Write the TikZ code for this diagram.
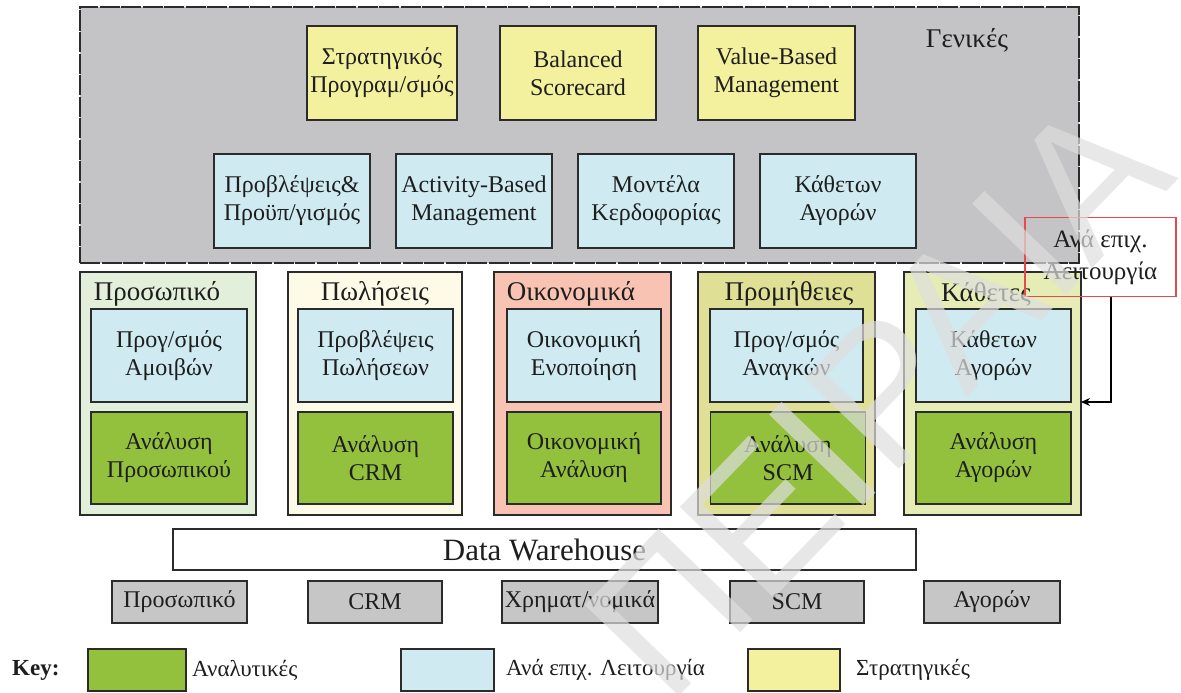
\documentclass[tikz,border=0pt]{standalone}
\usepackage{fontspec}
\setmainfont{Liberation Serif}
\newfontfamily\wmfont{Liberation Sans}
\usetikzlibrary{arrows.meta,calc}

\definecolor{genfill}{HTML}{C4C3C5}
\definecolor{stratfill}{HTML}{F3F19E}
\definecolor{funcfill}{HTML}{CFEAF0}
\definecolor{analfill}{HTML}{93C13D}
\definecolor{hrfill}{HTML}{E2EFDA}
\definecolor{salesfill}{HTML}{FDFBE8}
\definecolor{finfill}{HTML}{F8C3B2}
\definecolor{supfill}{HTML}{DFE095}
\definecolor{vertfill}{HTML}{E5ECB6}
\definecolor{srcfill}{HTML}{C6C6C6}
\definecolor{edge}{HTML}{2B2B2B}
\definecolor{ink}{HTML}{1E1E1E}
\definecolor{redline}{HTML}{E8494D}

\tikzset{
  boxbase/.style={draw=edge, line width=1.3pt, inner sep=0pt, outer sep=0pt,
    align=center, text=ink, font=\fontsize{24}{28}\selectfont},
  strat/.style={boxbase, fill=stratfill, minimum height=94pt},
  func/.style={boxbase, fill=funcfill},
  anal/.style={boxbase, fill=analfill},
  group/.style={boxbase, minimum height=243pt},
  grouptitle/.style={text=ink, inner sep=0pt, font=\fontsize{27}{30}\selectfont},
  source/.style={boxbase, fill=srcfill, minimum height=42pt},
  keybox/.style={boxbase, minimum width=94pt, minimum height=42pt},
  keytext/.style={text=ink, inner sep=0pt, anchor=west, font=\fontsize{23}{26}\selectfont},
  arr/.style={draw=black, line width=1.3pt, -{Stealth[length=9pt,width=8pt]}},
}

\begin{document}
\begin{tikzpicture}[x=1pt,y=-1pt]
\useasboundingbox (0,0) rectangle (1181,693);

% general-purpose layer
\node[boxbase, fill=genfill, draw=edge, dash pattern=on 20pt off 1.5pt,
      minimum width=999pt, minimum height=256pt] (gen) at (579.5,135) {};
\node[grouptitle] (genlbl) at (967,40) {Γενικές};

\node[strat, minimum width=150pt] (s1) at (382,73) {Στρατηγικός\\Προγραμ/σμός};
\node[strat, minimum width=156pt] (s2) at (578,73) {Balanced\\Scorecard};
\node[strat, minimum width=157pt] (s3) at (776.5,73) {Value-Based\\Management};

\node[func, minimum width=156pt, minimum height=94pt] (b1) at (292,201) {Προβλέψεις\&\\Προϋπ/γισμός};
\node[func, minimum width=156pt, minimum height=94pt] (b2) at (474,201) {Activity-Based\\Management};
\node[func, minimum width=156pt, minimum height=94pt] (b3) at (656,201) {Μοντέλα\\Κερδοφορίας};
\node[func, minimum width=156pt, minimum height=94pt] (b4) at (838,201) {Κάθετων\\Αγορών};

% functional groups
\node[group, fill=hrfill,    minimum width=176pt] (g1) at (168,393.5) {};
\node[group, fill=salesfill, minimum width=174pt] (g2) at (375,393.5) {};
\node[group, fill=finfill,   minimum width=177pt] (g3) at (582.5,393.5) {};
\node[group, fill=supfill,   minimum width=177pt] (g4) at (786.5,393.5) {};
\node[group, fill=vertfill,  minimum width=177pt] (g5) at (992.5,393.5) {};

\node[grouptitle] (t1) at (157,294) {Προσωπικό};
\node[grouptitle] (t2) at (375,294) {Πωλήσεις};
\node[grouptitle] (t3) at (571,294) {Οικονομικά};
\node[grouptitle] (t4) at (789,294) {Προμήθειες};
\node[grouptitle] (t5) at (986,294) {Κάθετες};

\node[func, minimum width=156pt, minimum height=93pt] (g1a) at (169,355.5) {Προγ/σμός\\Αμοιβών};
\node[func, minimum width=155pt, minimum height=93pt] (g2a) at (375.5,355.5) {Προβλέψεις\\Πωλήσεων};
\node[func, minimum width=154pt, minimum height=93pt] (g3a) at (584,355.5) {Οικονομική\\Ενοποίηση};
\node[func, minimum width=153pt, minimum height=93pt] (g4a) at (786.5,355.5) {Προγ/σμός\\Αναγκών};
\node[func, minimum width=155pt, minimum height=93pt] (g5a) at (993.5,355.5) {Κάθετων\\Αγορών};

\node[anal, minimum width=156pt, minimum height=92pt] (g1b) at (169,458) {Ανάλυση\\Προσωπικού};
\node[anal, minimum width=155pt, minimum height=92pt] (g2b) at (375.5,458) {Ανάλυση\\CRM};
\node[anal, minimum width=154pt, minimum height=92pt] (g3b) at (584,458) {Οικονομική\\Ανάλυση};
\node[anal, minimum width=155pt, minimum height=92pt] (g4b) at (788,458) {Ανάλυση\\SCM};
\node[anal, minimum width=155pt, minimum height=92pt] (g5b) at (993.5,458) {Ανάλυση\\Αγορών};

% data warehouse and sources
\node[boxbase, fill=white, minimum width=743pt, minimum height=41pt,
      font=\fontsize{31}{34}\selectfont] (dw) at (544.5,549.5) {Data Warehouse};

\node[source, minimum width=135pt] (src1) at (179.5,602) {Προσωπικό};
\node[source, minimum width=134pt] (src2) at (375,602) {CRM};
\node[source, minimum width=156pt] (src3) at (580,602) {Χρηματ/νομικά};
\node[source, minimum width=134pt] (src4) at (797,602) {SCM};
\node[source, minimum width=136pt] (src5) at (992,602) {Αγορών};

% legend
\node[text=ink, inner sep=0pt, anchor=west, font=\fontsize{23}{26}\selectfont\bfseries] (keylbl) at (12,670) {Key:};
\node[keybox, fill=analfill, minimum width=98pt] (k1) at (137,670) {};
\node[keytext] (k1t) at (192,670) {Αναλυτικές};
\node[keybox, fill=funcfill, minimum width=93pt] (k2) at (447.5,670) {};
\node[keytext] (k2t) at (506,670) {Ανά επιχ. Λειτουργία};
\node[keybox, fill=stratfill, minimum width=92pt] (k3) at (794,670) {};
\node[keytext] (k3t) at (856,670) {Στρατηγικές};

% callout
\node[draw=redline, line width=1.3pt, inner sep=0pt, minimum width=151pt, minimum height=79pt,
      align=center, text=ink, font=\fontsize{25}{32}\selectfont] (call) at (1100.5,257)
      {Ανά επιχ.\\Λειτουργία};
\draw[arr] ([xshift=10.5pt]call.south) |- (g5.east |- g5a.south);

% repository watermark
\node[rotate=46, anchor=base west, inner sep=0pt, text=black!13, opacity=0.7,
      font=\wmfont\fontsize{190}{190}\selectfont] (wm) at (668,708) {ΠΕΙΡΑΙΑ};
\end{tikzpicture}
\end{document}
